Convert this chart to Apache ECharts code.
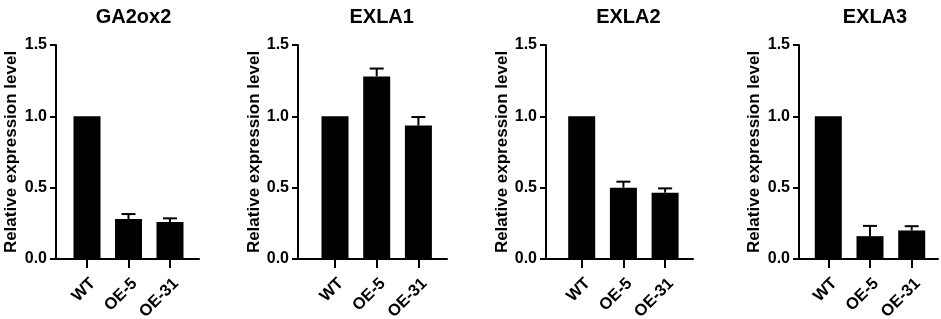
<!DOCTYPE html>
<html>
<head>
<meta charset="utf-8">
<script src="https://cdn.jsdelivr.net/npm/echarts@6/dist/echarts.min.js"></script>
<style>
html,body{margin:0;padding:0;background:#fff;}
#chart{width:941px;height:319px;}
</style>
</head>
<body>
<div id="chart"></div>
<script>
// ---- data ----
const categories = ['WT', 'OE-5', 'OE-31'];
const panelTitles = ['GA2ox2', 'EXLA1', 'EXLA2', 'EXLA3'];
const ga2ox2Values = [1.0, 0.28, 0.26];
const ga2ox2Errors = [0, 0.035, 0.025];
const exla1Values = [1.0, 1.28, 0.935];
const exla1Errors = [0, 0.055, 0.06];
const exla2Values = [1.0, 0.50, 0.465];
const exla2Errors = [0, 0.042, 0.03];
const exla3Values = [1.0, 0.16, 0.20];
const exla3Errors = [0, 0.072, 0.03];
const yAxisMin = 0, yAxisMax = 1.5, yAxisStep = 0.5;
const yAxisName = 'Relative expression level';

const panelValues = [ga2ox2Values, exla1Values, exla2Values, exla3Values];
const panelErrors = [ga2ox2Errors, exla1Errors, exla2Errors, exla3Errors];

// ---- layout (pixels) ----
const plotTop = 45, plotHeight = 214;
const layout = [
  {axisX: 56,  axisEnd: 199, firstCenter: 87,    band: 41.5, nameGap: 36},
  {axisX: 298, axisEnd: 447, firstCenter: 335,   band: 41.7, nameGap: 27},
  {axisX: 546, axisEnd: 693, firstCenter: 581.7, band: 41.7, nameGap: 29},
  {axisX: 799, axisEnd: 938, firstCenter: 828.3, band: 41.7, nameGap: 36}
];
const FONT = '"Liberation Sans", Arial, Helvetica, sans-serif';

const grid = [], xAxis = [], yAxis = [], series = [], title = [];
layout.forEach((L, i) => {
  // frame grid: y axis + long x axis line
  grid.push({left: L.axisX, top: plotTop, width: L.axisEnd - L.axisX, height: plotHeight,
    containLabel: false, outerBoundsMode: 'none'});
  const gA = grid.length - 1;
  xAxis.push({gridIndex: gA, type: 'value', min: 0, max: 1,
    axisLine: {show: true, lineStyle: {color: '#000', width: 2}},
    axisTick: {show: false}, axisLabel: {show: false}, splitLine: {show: false}});
  yAxis.push({gridIndex: gA, type: 'value', min: yAxisMin, max: yAxisMax, interval: yAxisStep,
    name: yAxisName, nameLocation: 'middle', nameGap: L.nameGap,
    nameTextStyle: {fontFamily: FONT, fontWeight: 'bold', fontSize: 17, color: '#000'},
    axisLine: {show: true, lineStyle: {color: '#000', width: 2}},
    axisTick: {show: true, length: 6, lineStyle: {color: '#000', width: 2}},
    axisLabel: {margin: 9, fontFamily: FONT, fontWeight: 'bold', fontSize: 16, color: '#000',
      formatter: v => v.toFixed(1)},
    splitLine: {show: false}});
  // bars grid
  grid.push({left: L.firstCenter - L.band / 2, top: plotTop, width: L.band * categories.length, height: plotHeight,
    containLabel: false, outerBoundsMode: 'none'});
  const gB = grid.length - 1;
  xAxis.push({gridIndex: gB, type: 'category', data: categories,
    axisLine: {show: false},
    axisTick: {show: true, alignWithLabel: true, length: 9, lineStyle: {color: '#000', width: 2}},
    axisLabel: {rotate: 45, margin: 16, interval: 0, align: 'right', verticalAlign: 'top',
      fontFamily: FONT, fontWeight: 'bold', fontSize: 16.5, color: '#000'},
    splitLine: {show: false}});
  yAxis.push({gridIndex: gB, type: 'value', min: yAxisMin, max: yAxisMax, interval: yAxisStep, show: false});
  const xi = xAxis.length - 1, yi = yAxis.length - 1;
  series.push({type: 'bar', xAxisIndex: xi, yAxisIndex: yi, data: panelValues[i],
    barWidth: 27, itemStyle: {color: '#000'}, silent: true, z: 2});
  series.push({type: 'custom', xAxisIndex: xi, yAxisIndex: yi, z: 1,
    data: panelValues[i].map((v, k) => [k, v, panelErrors[i][k]]),
    renderItem: (params, api) => {
      const e = api.value(2);
      if (!e) return null;
      const base = api.coord([api.value(0), api.value(1)]);
      const top = api.coord([api.value(0), api.value(1) + e]);
      const half = 7;
      const st = {stroke: '#000', lineWidth: 2};
      return {type: 'group', children: [
        {type: 'line', shape: {x1: base[0], y1: base[1], x2: top[0], y2: top[1]}, style: st},
        {type: 'line', shape: {x1: top[0] - half, y1: top[1], x2: top[0] + half, y2: top[1]}, style: st}
      ]};
    }});
  title.push({text: panelTitles[i], left: L.firstCenter + L.band, top: 2, textAlign: 'center',
    textStyle: {fontFamily: FONT, fontWeight: 'bold', fontSize: 20, color: '#000'}});
});

const chart = echarts.init(document.getElementById('chart'), null, {renderer: 'canvas'});
chart.setOption({animation: false, backgroundColor: '#fff', title, grid, xAxis, yAxis, series});
</script>
</body>
</html>
